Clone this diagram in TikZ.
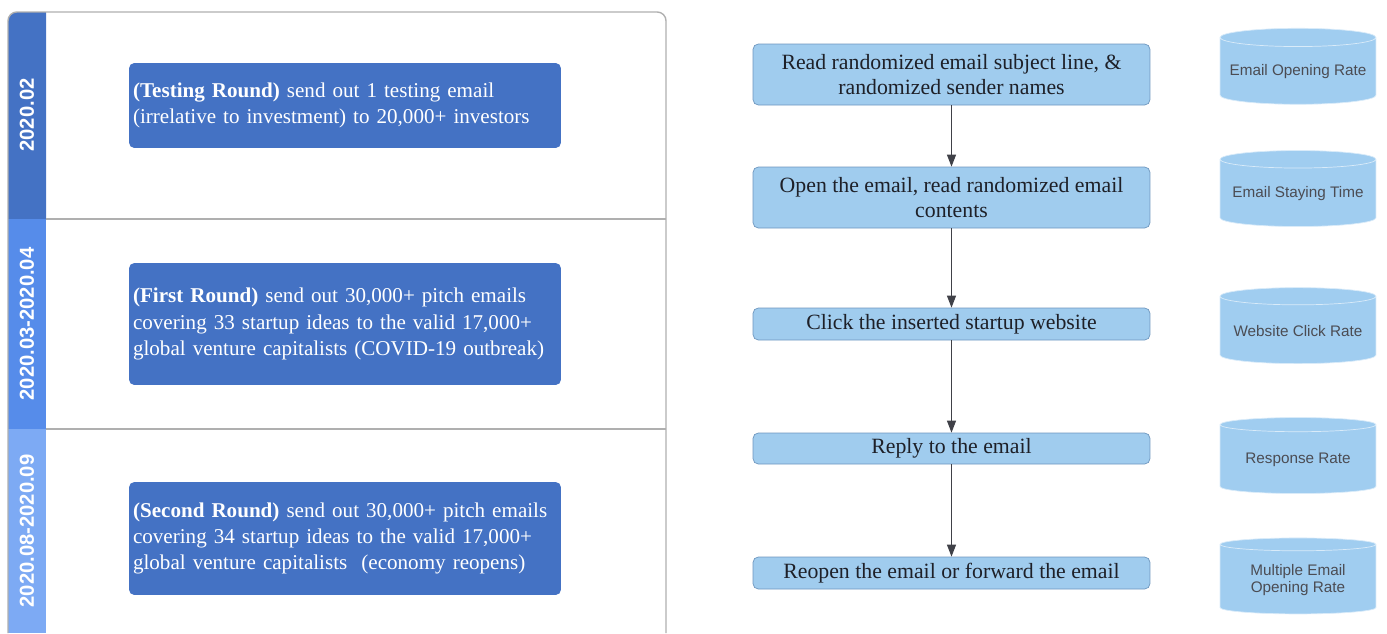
\documentclass[tikz,border=0pt]{standalone}
\usepackage{fontspec}
\setmainfont{Liberation Serif}
\setsansfont{Liberation Sans}
\usepackage{tikz}
\usetikzlibrary{shapes.geometric,arrows.meta,positioning}
\definecolor{bandone}{RGB}{68,114,196}
\definecolor{bandtwo}{RGB}{86,140,234}
\definecolor{bandthree}{RGB}{125,170,244}
\definecolor{roundblue}{RGB}{68,114,196}
\definecolor{stepfill}{RGB}{160,204,238}
\definecolor{stepline}{RGB}{110,150,190}
\definecolor{cylfill}{RGB}{160,205,240}
\definecolor{framegray}{RGB}{175,175,175}
\definecolor{inkdark}{RGB}{30,32,40}

\begin{document}
\begin{tikzpicture}[x=0.02cm, y=-0.02cm,
    frame/.style={draw=framegray, line width=0.8pt},
    period/.style={rotate=90, text=white, font=\sffamily\bfseries\fontsize{11.5}{13}\selectfont},
    round/.style={rectangle, fill=roundblue, rounded corners=3pt, minimum width=8.64cm,
               text width=8.48cm, inner sep=0.08cm, align=left, text=white,
               font=\fontsize{12}{15}\selectfont},
    stepbox/.style={rectangle, draw=stepline, fill=stepfill, rounded corners=3pt,
               minimum width=7.94cm, inner sep=2pt, align=center, text=inkdark,
               font=\fontsize{12.4}{14.6}\selectfont},
    metric/.style={cylinder, shape border rotate=90, aspect=0.13, draw=white!60!cylfill,
               fill=cylfill, minimum width=3.12cm, minimum height=1.52cm, inner sep=1pt,
               align=center, text=inkdark!80, font=\sffamily\fontsize{8.7}{10.2}\selectfont},
    arr/.style={-{Triangle[length=2.4mm, width=1.8mm]}, draw=inkdark!85, line width=0.6pt}
]
    \useasboundingbox (0,0) rectangle (1387,633);

    % timeline on the left
    \fill[bandone] (8,219) [rounded corners=5pt] -- (8,12) [sharp corners] -- (46,12) -- (46,219) -- cycle;
    \fill[bandtwo] (8,219) rectangle (46,429);
    \fill[bandthree] (8,429) rectangle (46,633);
    \draw[frame, rounded corners=5pt] (8,633) -- (8,12) -- (666,12) -- (666,633);
    \draw[frame] (46,219) -- (666,219);
    \draw[frame] (46,429) -- (666,429);

    \node[period] (p1) at (27,115) {2020.02};
    \node[period] (p2) at (27,324) {2020.03-2020.04};
    \node[period] (p3) at (27,531) {2020.08-2020.09};

    \node[round, minimum height=1.7cm] (r1) at (345,105.5)
        {\textbf{(Testing Round)} send out 1 testing email\\
         (irrelative to investment) to 20,000+ investors};
    \node[round, minimum height=2.44cm] (r2) at (345,324)
        {\textbf{(First Round)} send out 30,000+ pitch emails\\
         covering 33 startup ideas to the valid 17,000+\\
         global venture capitalists (COVID-19 outbreak)};
    \node[round, minimum height=2.26cm] (r3) at (345,538.5)
        {\textbf{(Second Round)} send out 30,000+ pitch emails\\
         covering 34 startup ideas to the valid 17,000+\\
         global venture capitalists~~(economy reopens)};

    % investor funnel
    \node[stepbox, minimum height=1.22cm] (s1) at (951.5,74.5)
        {Read randomized email subject line, \&\\randomized sender names};
    \node[stepbox, minimum height=1.22cm] (s2) at (951.5,197.5)
        {Open the email, read randomized email\\contents};
    \node[stepbox, minimum height=0.64cm] (s3) at (951.5,324) {Click the inserted startup website};
    \node[stepbox, minimum height=0.62cm] (s4) at (951.5,448.5) {Reply to the email};
    \node[stepbox, minimum height=0.64cm] (s5) at (951.5,573) {Reopen the email or forward the email};

    \draw[arr] (s1) -- (s2);
    \draw[arr] (s2) -- (s3);
    \draw[arr] (s3) -- (s4);
    \draw[arr] (s4) -- (s5);

    % measured outcomes
    \node[metric] (m1) at (1298,72)  {Email Opening Rate};
    \node[metric] (m2) at (1298,194) {Email Staying Time};
    \node[metric] (m3) at (1298,331) {Website Click Rate};
    \node[metric] (m4) at (1298,460) {Response Rate};
    \node[metric] (m5) at (1298,580) {Multiple Email\\Opening Rate};
\end{tikzpicture}
\end{document}
